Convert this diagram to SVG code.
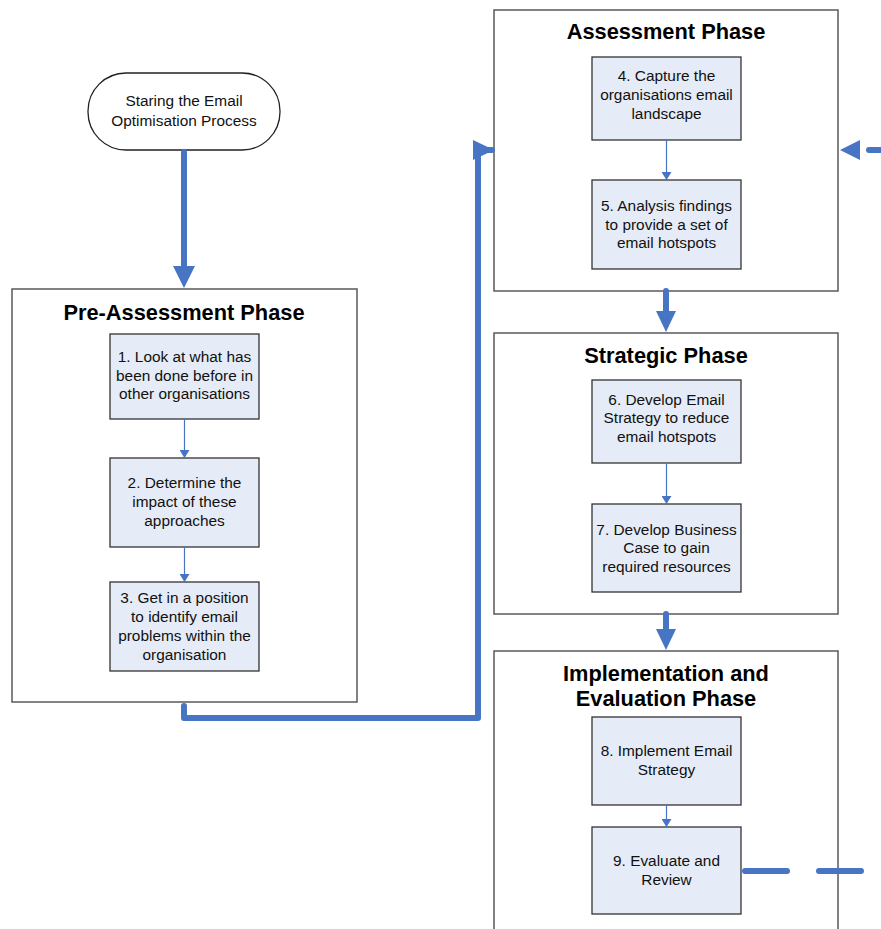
<svg xmlns="http://www.w3.org/2000/svg" width="881" height="929" viewBox="0 0 881 929">
<defs>
<style>
.phase{fill:#fff;stroke:#5a5a5a;stroke-width:1.5}
.step{fill:#e6ecf7;stroke:#333;stroke-width:1.3}
.t{font-family:"Liberation Sans",Arial,sans-serif;font-size:15.4px;fill:#111;text-anchor:middle}
.h{font-family:"Liberation Sans",Arial,sans-serif;font-size:21.8px;font-weight:bold;fill:#000;text-anchor:middle}
.thick{fill:none;stroke:#4775c4;stroke-width:6;stroke-linecap:round;stroke-linejoin:round}
.thin{fill:none;stroke:#4775c4;stroke-width:1.2}
.dash{fill:none;stroke:#4775c4;stroke-width:6;stroke-linecap:round;stroke-dasharray:42 32}
.ah{fill:#4775c4}
</style>
<marker id="sm" viewBox="0 0 8 10" refX="8" refY="5" markerWidth="8" markerHeight="10" markerUnits="userSpaceOnUse" orient="auto"><path d="M0,0 L8,5 L0,10 Z" fill="#4775c4"/></marker>
</defs>

<g id="start">
<rect x="88" y="73" width="192" height="77" rx="38" ry="38" fill="#fff" stroke="#222" stroke-width="1.3"/>
<text class="t" x="184" y="106">Staring the Email</text>
<text class="t" x="184" y="126">Optimisation Process</text>
</g>

<g id="pre-assessment">
<rect class="phase" x="12" y="289" width="345" height="413"/>
<text class="h" x="184" y="320">Pre-Assessment Phase</text>
</g>
<g id="step1"><rect class="step" x="110" y="334" width="149" height="85"/>
<text class="t" x="184.5" y="362">1. Look at what has</text><text class="t" x="184.5" y="381">been done before in</text><text class="t" x="184.5" y="399">other organisations</text></g>
<g id="step2"><rect class="step" x="110" y="458" width="149" height="89"/>
<text class="t" x="184.5" y="488">2. Determine the</text><text class="t" x="184.5" y="507">impact of these</text><text class="t" x="184.5" y="526">approaches</text></g>
<g id="step3"><rect class="step" x="110" y="582" width="149" height="89"/>
<text class="t" x="184.5" y="603">3. Get in a position</text><text class="t" x="184.5" y="622">to identify email</text><text class="t" x="184.5" y="641">problems within the</text><text class="t" x="184.5" y="660">organisation</text></g>

<g id="assessment">
<rect class="phase" x="494" y="10" width="344" height="281"/>
<text class="h" x="666" y="39">Assessment Phase</text>
</g>
<g id="step4"><rect class="step" x="592" y="57" width="149" height="83"/>
<text class="t" x="666.5" y="81">4. Capture the</text><text class="t" x="666.5" y="100">organisations email</text><text class="t" x="666.5" y="119">landscape</text></g>
<g id="step5"><rect class="step" x="592" y="180" width="149" height="89"/>
<text class="t" x="666.5" y="211">5. Analysis findings</text><text class="t" x="666.5" y="230">to provide a set of</text><text class="t" x="666.5" y="248">email hotspots</text></g>

<g id="strategic">
<rect class="phase" x="494" y="333" width="344" height="281"/>
<text class="h" x="666" y="363">Strategic Phase</text>
</g>
<g id="step6"><rect class="step" x="592" y="380" width="149" height="83"/>
<text class="t" x="666.5" y="405">6. Develop Email</text><text class="t" x="666.5" y="423">Strategy to reduce</text><text class="t" x="666.5" y="442">email hotspots</text></g>
<g id="step7"><rect class="step" x="592" y="504" width="149" height="88"/>
<text class="t" x="666.5" y="535">7. Develop Business</text><text class="t" x="666.5" y="553">Case to gain</text><text class="t" x="666.5" y="572">required resources</text></g>

<g id="implementation">
<path class="phase" d="M494,940 V651 H838 V940"/>
<text class="h" x="666" y="681">Implementation and</text>
<text class="h" x="666" y="706">Evaluation Phase</text>
</g>
<g id="step8"><rect class="step" x="592" y="717" width="149" height="88"/>
<text class="t" x="666.5" y="756">8. Implement Email</text><text class="t" x="666.5" y="775">Strategy</text></g>
<g id="step9"><rect class="step" x="592" y="827" width="149" height="87"/>
<text class="t" x="666.5" y="866">9. Evaluate and</text><text class="t" x="666.5" y="885">Review</text></g>

<g id="connectors">
<line class="thick" x1="184" y1="152" x2="184" y2="268"/>
<path class="ah" d="M173,266 L195,266 L184,288 Z"/>
<path class="thick" d="M184,706 V718 H478 V150 H492"/>
<path class="ah" d="M473,140 L494,150 L473,160 Z"/>
<line class="thick" x1="666" y1="291" x2="666" y2="313"/>
<path class="ah" d="M656,311 L676,311 L666,332 Z"/>
<line class="thick" x1="666" y1="614" x2="666" y2="631"/>
<path class="ah" d="M656,629 L676,629 L666,650 Z"/>
<line class="dash" x1="745" y1="871" x2="900" y2="871"/>
<line class="thick" x1="869" y1="150" x2="885" y2="150"/>
<path class="ah" d="M840,150 L860,140 L860,160 Z"/>
<line class="thin" x1="184.5" y1="419" x2="184.5" y2="458" marker-end="url(#sm)"/>
<line class="thin" x1="184.5" y1="547" x2="184.5" y2="582" marker-end="url(#sm)"/>
<line class="thin" x1="666.5" y1="140" x2="666.5" y2="180" marker-end="url(#sm)"/>
<line class="thin" x1="666.5" y1="463" x2="666.5" y2="504" marker-end="url(#sm)"/>
<line class="thin" x1="666.5" y1="805" x2="666.5" y2="827" marker-end="url(#sm)"/>
</g>
</svg>
